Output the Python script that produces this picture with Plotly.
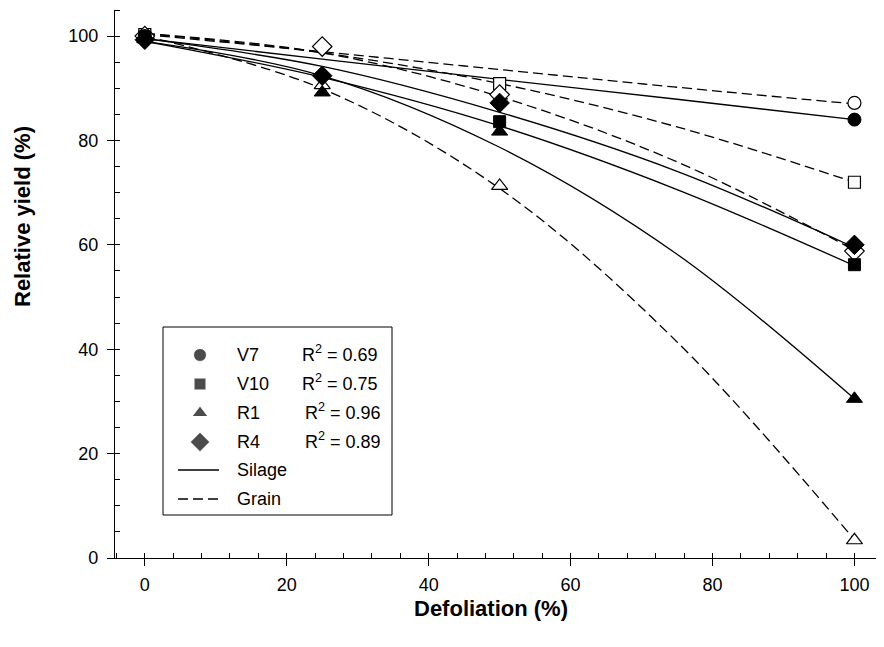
import plotly.graph_objects as go

# observed relative yields (%), filled = silage, open = grain
v7_x = [0, 100]
v7_silage = [100.0, 84.0]
v7_grain = [100.2, 87.2]

v10_x = [0, 50, 100]
v10_silage = [99.8, 83.6, 56.2]
v10_grain = [100.3, 90.9, 72.0]

r1_x = [0, 25, 50, 100]
r1_silage = [99.4, 89.2, 81.7, 30.5]
r1_grain = [99.8, 90.6, 71.3, 3.4]

r4_x = [0, 25, 50, 100]
r4_silage = [99.3, 92.4, 87.2, 60.0]
r4_grain = [100.0, 98.0, 88.8, 58.8]

# fitted curves
fit_x = [0, 25, 50, 75, 100]
v7_silage_fit = [99.5, 95.6, 91.7, 87.9, 84.0]
v7_grain_fit = [100.3, 97.0, 93.6, 90.2, 87.0]
v10_silage_fit = [99.0, 92.1, 82.8, 70.6, 56.0]
v10_grain_fit = [100.5, 96.8, 90.9, 82.6, 72.0]
r1_silage_fit = [99.0, 92.4, 78.7, 58.2, 30.5]
r1_grain_fit = [100.0, 89.9, 70.8, 41.4, 3.5]
r4_silage_fit = [99.5, 94.2, 85.4, 74.1, 59.5]
r4_grain_fit = [100.5, 96.8, 88.4, 75.9, 59.0]

stage_names = ['V7', 'V10', 'R1', 'R4']
r2_labels = ['0.69', '0.75', '0.96', '0.89']

FONT = 'Liberation Sans, Arial, sans-serif'
solid = dict(color='black', width=1.3)
dashed = dict(color='black', width=1.3, dash='10px,5px')

# plot area in page pixels (the html body adds an 8px offset, so shift back)
PL, PR, PT, PB = 107, 872, 2, 550
BOX_L, BOX_T, BOX_R, BOX_B = 155, 319, 384, 507
legend_rows = [28, 57, 86, 115]


def fx(px):
    return (px - PL) / (PR - PL)


def fy(py):
    return (PB - py) / (PB - PT)


fig = go.Figure()

fits = [
    (v7_silage_fit, solid), (v7_grain_fit, dashed),
    (v10_silage_fit, solid), (v10_grain_fit, dashed),
    (r1_silage_fit, solid), (r1_grain_fit, dashed),
    (r4_silage_fit, solid), (r4_grain_fit, dashed),
]
for ys, ln in fits:
    fig.add_trace(go.Scatter(x=fit_x, y=ys, mode='lines', line=ln, line_shape='spline',
                             showlegend=False, hoverinfo='skip'))

stages = [
    ('circle', 13, v7_x, v7_silage, v7_grain),
    ('square', 12, v10_x, v10_silage, v10_grain),
    ('triangle-up', 14, r1_x, r1_silage, r1_grain),
    ('diamond', 15, r4_x, r4_silage, r4_grain),
]
# open markers first so the filled ones sit on top
for sym, sz, xs, sil, gr in stages:
    fig.add_trace(go.Scatter(x=xs, y=gr, mode='markers', showlegend=False,
                             marker=dict(symbol=sym, size=sz, color='white',
                                         line=dict(color='black', width=1.2))))
for sym, sz, xs, sil, gr in stages:
    fig.add_trace(go.Scatter(x=xs, y=sil, mode='markers', showlegend=False,
                             marker=dict(symbol=sym, size=sz, color='black',
                                         line=dict(color='black', width=1))))

# hand-built legend on its own small axis pair (pixels from box top-left)
fig.add_trace(go.Scatter(
    x=[37] * 4, y=legend_rows, mode='markers', xaxis='x3', yaxis='y3', showlegend=False,
    marker=dict(symbol=[s[0] for s in stages], size=[s[1] for s in stages], color='black'),
    hoverinfo='skip'))
fig.add_trace(go.Scatter(x=[15, 56], y=[143, 143], mode='lines', line=solid,
                         xaxis='x3', yaxis='y3', showlegend=False, hoverinfo='skip'))
fig.add_trace(go.Scatter(x=[15, 56], y=[172, 172], mode='lines', line=dashed,
                         xaxis='x3', yaxis='y3', showlegend=False, hoverinfo='skip'))

lfont = dict(family=FONT, size=18, color='black')
annos = []
for i, name in enumerate(stage_names):
    annos.append(dict(x=fx(BOX_L + 72), y=fy(BOX_T + legend_rows[i]), xref='paper',
                      yref='paper', text=name, showarrow=False, xanchor='left',
                      yanchor='middle', font=lfont))
    annos.append(dict(x=fx(BOX_L + (137 if i < 2 else 140)), y=fy(BOX_T + legend_rows[i] - 2),
                      xref='paper', yref='paper', text='R<sup>2</sup> = ' + r2_labels[i],
                      showarrow=False, xanchor='left', yanchor='middle', font=lfont))
for txt, yy in [('Silage', 143), ('Grain', 172)]:
    annos.append(dict(x=fx(BOX_L + 72), y=fy(BOX_T + yy), xref='paper', yref='paper',
                      text=txt, showarrow=False, xanchor='left', yanchor='middle',
                      font=lfont))

titlefont = dict(family=FONT, size=22, color='black')
annos.append(dict(x=fx(483), y=fy(600), xref='paper', yref='paper',
                  text='<b>Defoliation (%)</b>', showarrow=False,
                  xanchor='center', yanchor='middle', font=titlefont))
annos.append(dict(x=fx(14), y=fy(209), xref='paper', yref='paper',
                  text='<b>Relative yield (%)</b>', showarrow=False, textangle=-90,
                  xanchor='center', yanchor='middle', font=titlefont))

tickfont = dict(family=FONT, size=18, color='black')
fig.update_layout(
    width=884, height=647,
    margin=dict(l=PL, r=884 - PR, t=PT, b=647 - PB),
    paper_bgcolor='white', plot_bgcolor='white',
    font=dict(family=FONT, color='black'),
    annotations=annos,
    shapes=[dict(type='rect', xref='paper', yref='paper', x0=fx(BOX_L), x1=fx(BOX_R),
                 y0=fy(BOX_B), y1=fy(BOX_T), line=dict(color='black', width=1))],
    xaxis=dict(range=[-4.2, 103.6], tick0=0, dtick=20, ticks='outside', ticklen=7,
               tickwidth=1.2, tickcolor='black', showline=True, linecolor='black',
               linewidth=1.2, showgrid=False, zeroline=False, tickfont=tickfont,
               ticklabelstandoff=3, automargin=False,
               minor=dict(ticks='inside', tick0=0, dtick=4, ticklen=5, tickwidth=1,
                          tickcolor='black', showgrid=False)),
    yaxis=dict(range=[0, 105], tick0=0, dtick=20, ticks='outside', ticklen=7,
               tickwidth=1.2, tickcolor='black', showline=True, linecolor='black',
               linewidth=1.2, showgrid=False, zeroline=False, tickfont=tickfont,
               ticklabelstandoff=5, automargin=False,
               minor=dict(ticks='inside', tick0=0, dtick=5, ticklen=5, tickwidth=1,
                          tickcolor='black', showgrid=False)),
    xaxis2=dict(overlaying='x', anchor='y', side='bottom', range=[-4.2, 103.6],
                tick0=0, dtick=20, ticks='inside', ticklen=7, tickwidth=1.2,
                tickcolor='black', showticklabels=False, showline=False,
                showgrid=False, zeroline=False, automargin=False),
    yaxis2=dict(overlaying='y', anchor='x', side='left', range=[0, 105],
                tick0=0, dtick=20, ticks='inside', ticklen=7, tickwidth=1.2,
                tickcolor='black', showticklabels=False, showline=False,
                showgrid=False, zeroline=False, automargin=False),
    xaxis3=dict(domain=[fx(BOX_L), fx(BOX_R)], anchor='y3',
                range=[0, BOX_R - BOX_L], visible=False),
    yaxis3=dict(domain=[fy(BOX_B), fy(BOX_T)], anchor='x3',
                range=[BOX_B - BOX_T, 0], visible=False),
)

fig.write_html('out.html')
